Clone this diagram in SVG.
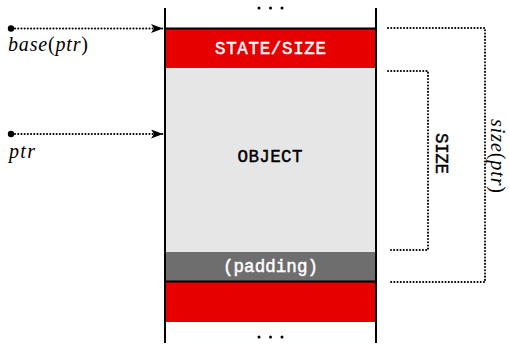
<svg xmlns="http://www.w3.org/2000/svg" width="509" height="348" viewBox="0 0 509 348">
<style>
.tt{font-family:"Liberation Mono","DejaVu Sans Mono",monospace;font-size:17.5px;text-anchor:middle;stroke-width:0.45}
.w{fill:#fff;stroke:#fff}
.k{fill:#000;stroke:#000}
.it{font-family:"Liberation Serif","DejaVu Serif",serif;font-size:20px}
.dot{fill:none;stroke:#000;stroke-width:2;stroke-dasharray:0.1 3.1;stroke-linecap:round}
</style>
<defs>
<marker id="ah" viewBox="0 0 12 9" refX="12" refY="4.5" markerWidth="12" markerHeight="9" markerUnits="userSpaceOnUse" orient="auto">
<path d="M0,0 L12,4.5 L0,9 L3,4.5 Z" fill="#000"/>
</marker>
</defs>
<rect width="509" height="348" fill="#fff"/>
<g id="header">
<rect x="165" y="28" width="211" height="40" fill="#e60000"/>
<text class="tt w" x="270.5" y="54" textLength="111">STATE/SIZE</text>
</g>
<g id="object">
<rect x="165" y="68" width="211" height="184" fill="#e6e6e6"/>
<text class="tt k" x="270" y="162" textLength="65">OBJECT</text>
</g>
<g id="padding">
<rect x="165" y="252" width="211" height="29" fill="#6e6e6e"/>
<text class="tt w" x="270.5" y="272" textLength="95">(padding)</text>
</g>
<g id="next">
<rect x="165" y="281" width="211" height="41" fill="#e60000"/>
</g>
<g id="frame">
<line x1="165" y1="8" x2="165" y2="343" stroke="#000" stroke-width="2"/>
<line x1="376" y1="8" x2="376" y2="343" stroke="#000" stroke-width="2"/>
<line x1="164" y1="28.5" x2="377" y2="28.5" stroke="#000" stroke-width="2"/>
<line x1="164" y1="281.5" x2="377" y2="281.5" stroke="#000" stroke-width="2"/>
<g fill="#000"><circle cx="259" cy="8" r="1.5"/><circle cx="270.5" cy="8" r="1.5"/><circle cx="282" cy="8" r="1.5"/>
<circle cx="259" cy="337" r="1.5"/><circle cx="270.5" cy="337" r="1.5"/><circle cx="282" cy="337" r="1.5"/></g>
</g>
<g id="connectors">
<circle cx="11" cy="28.5" r="3.2" fill="#000"/>
<line class="dot" x1="15" y1="28.5" x2="163" y2="28.5" marker-end="url(#ah)"/>
<circle cx="11" cy="134" r="3.2" fill="#000"/>
<line class="dot" x1="15" y1="134" x2="163" y2="134" marker-end="url(#ah)"/>
<polyline class="dot" points="388,28 485,28 485,282 389,282"/>
<polyline class="dot" points="388,71 428,71 428,250 391,250"/>
</g>
<g id="labels">
<text class="it" x="8" y="51" textLength="80"><tspan font-style="italic">base</tspan>(<tspan font-style="italic">ptr</tspan>)</text>
<text class="it" x="9" y="158" textLength="26"><tspan font-style="italic">ptr</tspan></text>
<text class="tt k" transform="translate(436,153.5) rotate(90)" x="0" y="0" textLength="41">SIZE</text>
<text class="it" transform="translate(491,156) rotate(90)" text-anchor="middle" font-size="16.5" textLength="74"><tspan font-style="italic">size</tspan>(<tspan font-style="italic">ptr</tspan>)</text>
</g>
</svg>
